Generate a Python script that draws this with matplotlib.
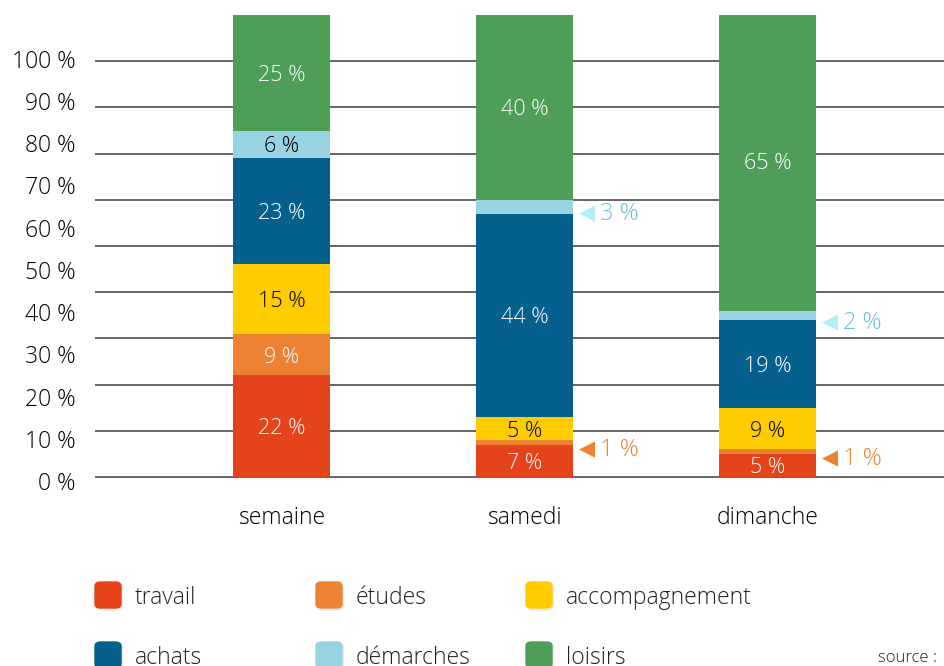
import matplotlib.pyplot as plt
import numpy as np
from matplotlib.patches import FancyBboxPatch

plt.rcParams['font.family'] = ['Open Sans', 'DejaVu Sans']
plt.rcParams['font.weight'] = 'light'

jours = ['semaine', 'samedi', 'dimanche']
motifs = ['travail', 'études', 'accompagnement', 'achats', 'démarches', 'loisirs']
couleurs = ['#E5431A', '#EE8233', '#FFCC00', '#05608E', '#97D3E2', '#4E9E57']
texte_noir = ['accompagnement', 'démarches']

travail = [22, 7, 5]
etudes = [9, 1, 1]
accompagnement = [15, 5, 9]
achats = [23, 44, 19]
demarches = [6, 3, 2]
loisirs = [25, 40, 65]
valeurs = [travail, etudes, accompagnement, achats, demarches, loisirs]

ticks = list(range(0, 101, 10))

fig = plt.figure(figsize=(9.45, 6.66), dpi=100)
ax = fig.add_axes([95 / 945, 1 - 481 / 666, 850 / 945, 466 / 666])

x = np.arange(len(jours))
ax.set_xlim(-0.7675, 2.73)
ax.set_ylim(0, 100)

# lignes horizontales
for t in ticks[:-1]:
    ax.axhline(t, color='#3a3a3a', lw=1.1, zorder=1)

bas = np.zeros(len(jours))
for m, v, c in zip(motifs, valeurs, couleurs):
    v = np.array(v, dtype=float)
    ax.bar(x, v, bottom=bas, width=0.4, color=c, zorder=2)
    for i in range(len(jours)):
        centre = bas[i] + v[i] / 2
        if v[i] >= 5:
            col = 'black' if m in texte_noir else 'white'
            ax.text(x[i], centre, f'{int(v[i])} %', ha='center', va='center_baseline',
                    color=col, fontsize=15.5, zorder=3)
        else:
            if m == 'démarches':
                tri, txt = '#B2EEF4', '#6DBFD9'
            else:
                tri, txt = '#EE8233', '#EE8233'
            ax.text(x[i] + 0.222, centre - 1.0, '◀', ha='left', va='center_baseline',
                    color=tri, fontsize=15, family=['DejaVu Sans'],
                    fontweight='normal', clip_on=False)
            ax.text(x[i] + 0.31, centre - 1.0, f'{int(v[i])} %', ha='left',
                    va='center_baseline', color=txt, fontsize=17, clip_on=False)
    bas += v

# étiquettes de l'axe y (décalées comme sur l'original)
pos = np.linspace(-0.86, 90.56, len(ticks))
ax.set_yticks(pos, [f'{t} %' for t in ticks])
ax.tick_params(axis='y', length=0, pad=14, labelsize=16.5)
ax.set_xticks(x, jours)
ax.tick_params(axis='x', length=0, pad=18, labelsize=16.5)
for s in ax.spines.values():
    s.set_visible(False)

# légende
cols_x = [95, 316, 526]
rows_y = [595, 655]
for k, (m, c) in enumerate(zip(motifs, couleurs)):
    px = cols_x[k % 3]
    py = rows_y[k // 3]
    fx, fy = px / 945, 1 - (py + 13) / 666
    w, h = 26 / 945, 26 / 666
    fig.patches.append(FancyBboxPatch((fx + 1.5 / 945, fy - 2 / 666), w, h,
                                      boxstyle='round,pad=0,rounding_size=0.006',
                                      transform=fig.transFigure, color='#e6ecef', zorder=0))
    fig.patches.append(FancyBboxPatch((fx, fy), w, h,
                                      boxstyle='round,pad=0,rounding_size=0.006',
                                      transform=fig.transFigure, color=c, zorder=1))
    fig.text((px + 40) / 945, 1 - py / 666, m, ha='left', va='center_baseline',
             fontsize=16.5, color='#222222')

fig.text(878 / 945, 1 - 656 / 666, 'source :', ha='left', va='center_baseline',
         fontsize=12, color='#222222')

fig.savefig('out.png', dpi=100)
